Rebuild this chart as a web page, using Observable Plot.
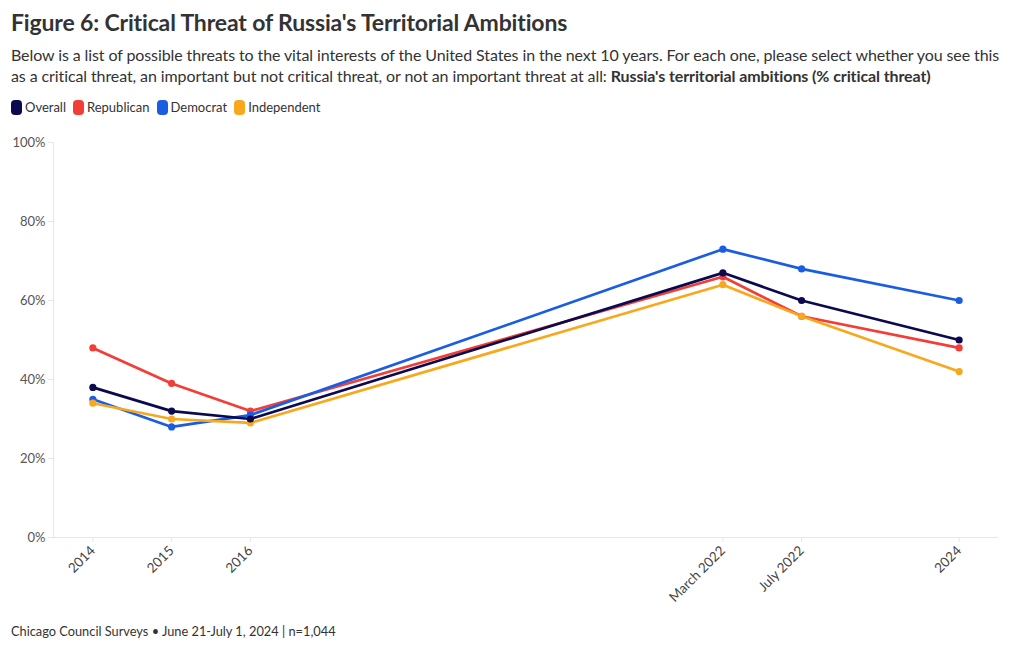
<!DOCTYPE html>
<html>
<head>
<meta charset="utf-8">
<script src="https://cdn.jsdelivr.net/npm/d3@7"></script>
<script src="https://cdn.jsdelivr.net/npm/@observablehq/plot@0.6"></script>
<style>
  html, body { margin: 0; padding: 0; background: #fff; }
  body { width: 1020px; height: 650px; position: relative; font-family: Lato, "Noto Sans", sans-serif; color: #333; overflow: hidden; }
  #title { position: absolute; left: 11px; top: 8px; font-size: 23px; font-weight: 700; color: #333; white-space: nowrap; letter-spacing: -0.15px; }
  #subtitle { position: absolute; left: 11px; top: 44px; font-size: 16px; line-height: 21px; color: #333; width: 1005px; letter-spacing: -0.1px; }
  #subtitle b { font-weight: 700; }
  #legend { position: absolute; left: 11px; top: 99px; font-size: 13px; color: #333; display: flex; gap: 7px; }
  #legend span { display: inline-flex; align-items: center; }
  #legend i { display: inline-block; width: 11px; height: 15px; border-radius: 4px; margin-right: 3px; }
  #chart { position: absolute; left: 0; top: 125px; }
  #footer { position: absolute; left: 11px; top: 623px; font-size: 12.8px; color: #333; }
</style>
</head>
<body>
<div id="title">Figure 6: Critical Threat of Russia's Territorial Ambitions</div>
<div id="subtitle">Below is a list of possible threats to the vital interests of the United States in the next 10 years. For each one, please select whether you see this<br>as a critical threat, an important but not critical threat, or not an important threat at all: <b>Russia's territorial ambitions (% critical threat)</b></div>
<div id="legend"></div>
<div id="chart"></div>
<div id="footer">Chicago Council Surveys • June 21-July 1, 2024 | n=1,044</div>
<script>
// Survey waves: label and position along the axis
const waves = ["2014", "2015", "2016", "March 2022", "July 2022", "2024"];
const wavePos = [0, 1, 2, 8, 9, 11];

const seriesNames = ["Overall", "Republican", "Democrat", "Independent"];
const seriesColors = ["#0b0a4f", "#f33d37", "#1a5de3", "#f8a81e"];

const overall     = [38, 32, 30, 67, 60, 50];
const republican  = [48, 39, 32, 66, 56, 48];
const democrat    = [35, 28, 31, 73, 68, 60];
const independent = [34, 30, 29, 64, 56, 42];

const yTicks = [0, 20, 40, 60, 80, 100];

const valuesBySeries = { Overall: overall, Republican: republican, Democrat: democrat, Independent: independent };
const drawOrder = ["Republican", "Democrat", "Independent", "Overall"];
const rows = [];
for (const s of drawOrder) {
  valuesBySeries[s].forEach((v, i) => rows.push({ series: s, pos: wavePos[i], label: waves[i], value: v }));
}

// legend
const legend = document.getElementById("legend");
seriesNames.forEach((n, i) => {
  const sp = document.createElement("span");
  sp.innerHTML = `<i style="background:${seriesColors[i]}"></i>${n}`;
  legend.appendChild(sp);
});

const labelOf = new Map(wavePos.map((p, i) => [p, waves[i]]));

const chart = Plot.plot({
  width: 1020,
  height: 480,
  marginTop: 17,
  marginBottom: 68,
  marginLeft: 53,
  marginRight: 22,
  style: { fontFamily: "Lato, 'Noto Sans', sans-serif", fontSize: "13px", color: "#444", background: "#fff" },
  x: { type: "linear", domain: [-0.5, 11.5] },
  y: { domain: [0, 100] },
  color: { domain: seriesNames, range: seriesColors },
  marks: [
    Plot.ruleX([-0.5], { y1: 0, y2: 100, stroke: "#e6e6e6", strokeWidth: 1 }),
    Plot.ruleY([0], { stroke: "#e6e6e6", strokeWidth: 1 }),
    Plot.axisY({ ticks: yTicks, tickFormat: d => d + "%", tickSize: 5, tickPadding: 3, stroke: "#e6e6e6", fill: "#555", fontSize: 13, label: null }),
    Plot.axisX({ ticks: wavePos, tickFormat: d => labelOf.get(d), tickRotate: -45, tickSize: 5, tickPadding: 6, stroke: "#e6e6e6", fill: "#444", fontSize: 13.5, label: null }),
    Plot.line(rows, { x: "pos", y: "value", z: "series", stroke: "series", strokeWidth: 2.7, curve: "linear" }),
    Plot.dot(rows, { x: "pos", y: "value", fill: "series", r: 3.6, stroke: null })
  ]
});
document.getElementById("chart").appendChild(chart);
</script>
</body>
</html>
